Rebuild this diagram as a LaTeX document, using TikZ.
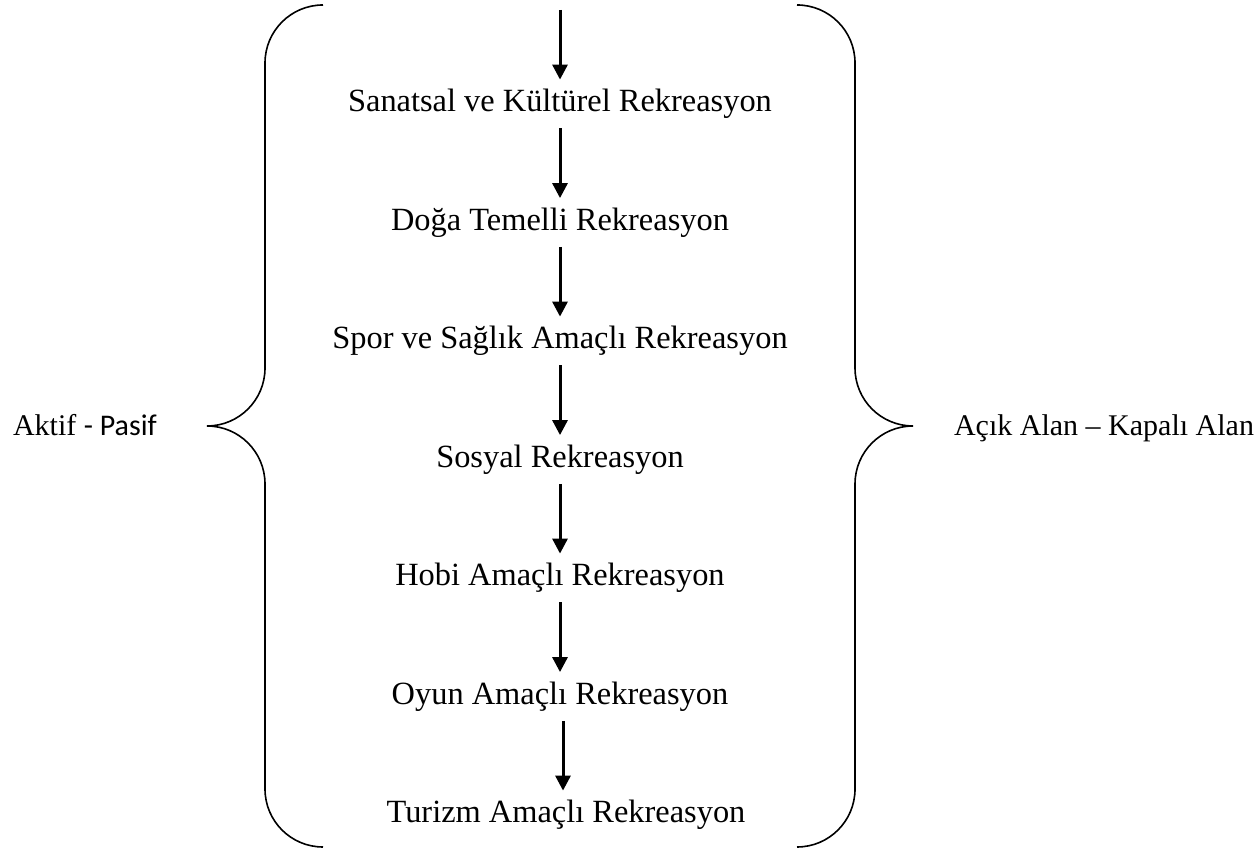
\documentclass[tikz,border=0pt]{standalone}
\usepackage{fontspec}
\setmainfont{Liberation Serif}
\newfontfamily\carlito{Carlito}
\usetikzlibrary{arrows.meta}

\begin{document}
\begin{tikzpicture}[x=0.5pt, y=0.5pt,
  every node/.style={font=\fontsize{15}{18}\selectfont},
  kind/.style={font=\fontsize{16.2}{19}\selectfont, text height=12pt, text depth=4pt, inner xsep=2pt, inner ysep=4pt},
  arr/.style={line width=1.5pt, -{Triangle[width=7.5pt, length=7.5pt]}},
  brace/.style={line width=0.8pt}]
\def\cx{560}
\def\dy{118.5}
\useasboundingbox (0,0) rectangle (1257,849);

% categories
\coordinate (top) at (\cx, 839);
\node[kind] (t1) at (\cx, 745) {Sanatsal ve Kültürel Rekreasyon};
\node[kind] (t2) at (\cx, 745 - \dy) {Doğa Temelli Rekreasyon};
\node[kind] (t3) at (\cx, 745 - 2*\dy) {Spor ve Sağlık Amaçlı Rekreasyon};
\node[kind] (t4) at (\cx, 745 - 3*\dy) {Sosyal Rekreasyon};
\node[kind] (t5) at (\cx, 745 - 4*\dy) {Hobi Amaçlı Rekreasyon};
\node[kind] (t6) at (\cx, 745 - 5*\dy) {Oyun Amaçlı Rekreasyon};
\node[kind] (t7) at (\cx + 6, 745 - 6*\dy) {Turizm Amaçlı Rekreasyon};

\draw[arr] (top) -- (t1.north);
\draw[arr] (t1) -- (t2);
\draw[arr] (t2) -- (t3);
\draw[arr] (t3) -- (t4);
\draw[arr] (t4) -- (t5);
\draw[arr] (t5) -- (t6);
\draw[arr] ([xshift=1.5pt]t6.south) -- ([xshift=-1.5pt]t7.north);

% braces
\draw[brace] (323,844) arc[start angle=90, end angle=180, radius=58]
  -- (265,481) arc[start angle=0, end angle=-90, radius=58]
  arc[start angle=90, end angle=0, radius=58]
  -- (265,60) arc[start angle=180, end angle=270, radius=58];
\draw[brace] (797,844) arc[start angle=90, end angle=0, radius=58]
  -- (855,481) arc[start angle=180, end angle=270, radius=58]
  arc[start angle=90, end angle=180, radius=58]
  -- (855,60) arc[start angle=0, end angle=-90, radius=58];

\node[anchor=base west] (left) at (6, 413) {Aktif {\carlito - Pasif}};
\node[anchor=base west] (right) at (947, 413) {Açık Alan – Kapalı Alan};
\end{tikzpicture}
\end{document}
